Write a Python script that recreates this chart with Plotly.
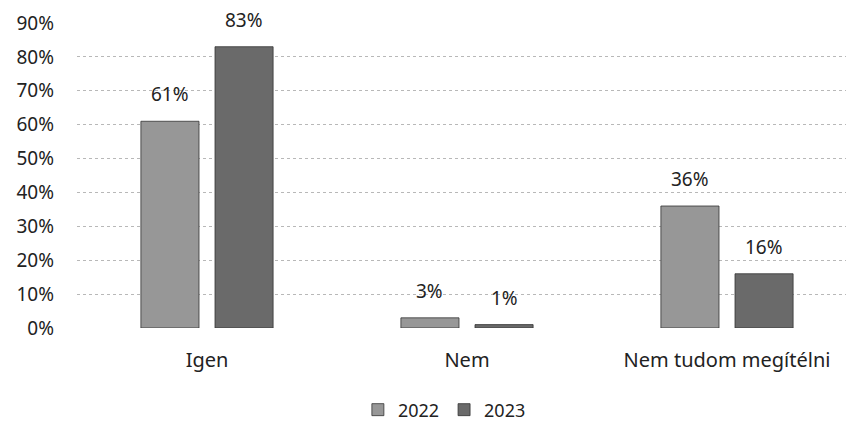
import plotly.graph_objects as go

categories = ["Igen", "Nem", "Nem tudom megítélni"]
series_names = ["2022", "2023"]
values_2022 = [61, 3, 36]
values_2023 = [83, 1, 16]
y_ticks = [0, 10, 20, 30, 40, 50, 60, 70, 80, 90]
y_tick_labels = [f"{v}%" for v in y_ticks]

FONT = "Noto Sans"
colors = ["#979797", "#6a6a6a"]

W, H = 854, 424
ML, MR, MT, MB = 69, 5, 15, 104
BARGAP = 0.43
BARGROUPGAP = 0.216

fig = go.Figure()
series = [values_2022, values_2023]
for name, vals, col in zip(series_names, series, colors):
    fig.add_trace(go.Bar(
        x=categories, y=vals, name=name,
        marker=dict(color=col, line=dict(color="#333333", width=0.8)),
    ))

# value labels above each bar (offset derived from bar-group geometry)
cat_w = (W - ML - MR) / len(categories)
slot = cat_w * (1 - BARGAP) / len(series)
for si, vals in enumerate(series):
    xs = (si - (len(series) - 1) / 2) * slot
    for c, v in zip(categories, vals):
        fig.add_annotation(x=c, y=v, text=f"{v}%", showarrow=False,
                           xshift=xs, yshift=12, yanchor="bottom",
                           font=dict(family=FONT, size=19, color="#222"))

fig.update_layout(
    width=W, height=H,
    margin=dict(l=ML, r=MR, t=MT, b=MB),
    paper_bgcolor="white", plot_bgcolor="white",
    barmode="group", bargap=BARGAP, bargroupgap=BARGROUPGAP,
    font=dict(family=FONT, size=19, color="#222"),
    showlegend=True,
    legend=dict(orientation="h", x=0.471, xanchor="center", yref="container", y=0.052, yanchor="middle",
                font=dict(family=FONT, size=18, color="#222"), itemwidth=30),
    xaxis=dict(showline=False, ticks="", automargin=False, ticklabelstandoff=18,
               tickfont=dict(family=FONT, size=20)),
    yaxis=dict(range=[0, 90], tickvals=y_ticks, ticktext=y_tick_labels, automargin=False,
               showgrid=True, gridcolor="#b8b8b8", griddash="dot", gridwidth=1,
               zeroline=False, showline=False, ticks="", ticklabelstandoff=22,
               tickfont=dict(family=FONT, size=19)),
)

fig.write_html("out.html")
